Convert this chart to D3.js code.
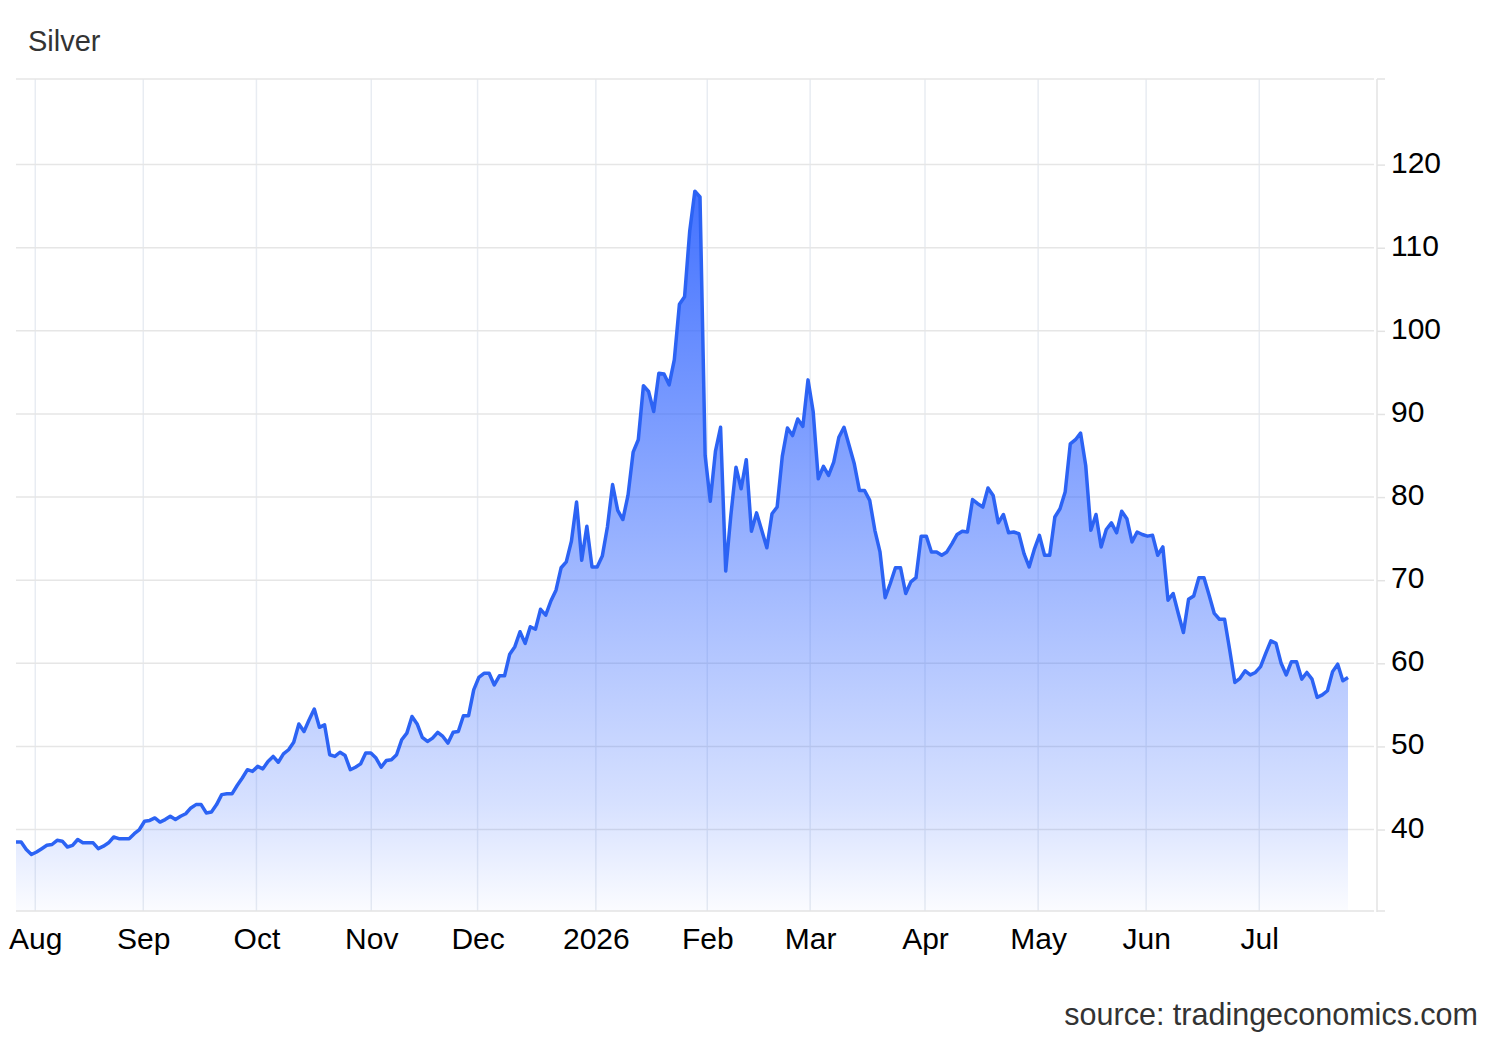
<!DOCTYPE html>
<html><head><meta charset="utf-8">
<script src="https://cdn.jsdelivr.net/npm/d3@7"></script>
<style>html,body{margin:0;padding:0;background:#fff;} svg{display:block;font-family:"Liberation Sans",Arial,Helvetica,sans-serif;}</style>
</head><body><svg id="chart" width="1500" height="1040"></svg>
<script>
const title = "Silver";
const sourceText = "source: tradingeconomics.com";
const startDate = "2025-07-28"; // first trading day shown (weekdays only)
const prices = [
38.5,38.5,37.6,37.0,37.3,37.7,38.1,38.2,38.7,38.6,
37.9,38.1,38.8,38.4,38.4,38.4,37.7,38.0,38.4,39.1,
38.9,38.9,38.9,39.5,40.0,41.0,41.1,41.4,40.9,41.2,
41.6,41.2,41.6,41.9,42.6,43.0,43.0,42.0,42.1,43.0,
44.2,44.3,44.3,45.3,46.2,47.2,47.0,47.6,47.3,48.2,
48.8,48.1,49.1,49.6,50.5,52.7,51.8,53.2,54.5,52.3,
52.6,49.0,48.8,49.3,48.9,47.2,47.5,47.9,49.2,49.2,
48.6,47.5,48.3,48.4,49.0,50.8,51.6,53.6,52.7,51.1,
50.6,51.0,51.7,51.2,50.4,51.7,51.8,53.7,53.7,56.8,
58.3,58.8,58.8,57.4,58.5,58.5,61.1,62.0,63.8,62.4,
64.4,64.1,66.5,65.8,67.5,68.8,71.5,72.2,74.7,79.4,
72.4,76.5,71.6,71.6,72.9,76.4,81.5,78.4,77.3,80.2,
85.4,86.9,93.4,92.7,90.3,94.9,94.8,93.5,96.5,103.2,
104.1,112.0,116.8,116.1,85.0,79.5,85.5,88.4,71.1,77.8,
83.6,81.0,84.5,75.9,78.1,76.0,73.9,78.0,78.8,84.9,
88.3,87.4,89.4,88.5,94.1,90.3,82.2,83.7,82.6,84.2,
87.2,88.4,86.2,84.0,80.8,80.8,79.6,76.0,73.4,67.9,
69.6,71.5,71.5,68.4,69.8,70.3,75.3,75.3,73.4,73.4,
73.0,73.4,74.4,75.5,75.9,75.8,79.7,79.2,78.8,81.1,
80.2,76.9,77.9,75.7,75.8,75.6,73.2,71.6,73.7,75.4,
73.0,73.0,77.6,78.6,80.6,86.4,86.9,87.7,83.8,76.0,
77.9,74.0,76.1,76.9,75.7,78.3,77.4,74.6,75.8,75.5,
75.3,75.4,73.0,74.0,67.6,68.4,66.0,63.7,67.7,68.1,
70.3,70.3,68.2,66.0,65.3,65.3,61.6,57.7,58.2,59.1,
58.6,58.9,59.6,61.2,62.7,62.4,60.0,58.6,60.2,60.2,
58.1,58.9,58.1,55.9,56.2,56.7,59.0,59.9,57.9,58.3
];
const yTickValues = [40, 50, 60, 70, 80, 90, 100, 110, 120];
const monthTickDates = ["2025-08-01","2025-09-01","2025-10-01","2025-11-01","2025-12-01","2026-01-01","2026-02-01","2026-03-01","2026-04-01","2026-05-01","2026-06-01","2026-07-01"];
const monthTickLabels = ["Aug","Sep","Oct","Nov","Dec","2026","Feb","Mar","Apr","May","Jun","Jul"];

const svg = d3.select("#chart");
const L = 16, R = 1374, T = 79, B = 911, AX = 1377;
const FS = 30;

// trading-day dates
const parse = d3.utcParse("%Y-%m-%d");
const dates = [];
let cur = parse(startDate);
while (dates.length < prices.length) {
  const wd = cur.getUTCDay();
  if (wd !== 0 && wd !== 6) dates.push(cur);
  cur = d3.utcDay.offset(cur, 1);
}
const data = prices.map((v, i) => ({i, date: dates[i], v}));

const x = d3.scaleLinear().domain([0, prices.length - 1]).range([16, 1348]);
const y = d3.scaleLinear().domain([30.2, 130.3]).range([B, T]);

// month tick positions in trading-index units
const bis = d3.bisector(d => d).left;
const monthTicks = monthTickDates.map((s, k) => {
  const m = parse(s);
  const i = bis(dates, m);
  const gap = (dates[i] - m) / 864e5;
  return {pos: i - gap / 3 - 0.25, label: monthTickLabels[k]};
});

// gradient
const defs = svg.append("defs");
const grad = defs.append("linearGradient").attr("id", "fillGrad")
  .attr("gradientUnits", "userSpaceOnUse")
  .attr("x1", 0).attr("x2", 0).attr("y1", y(d3.max(prices))).attr("y2", B);
[[0, 0.92], [0.55, 0.45], [0.85, 0.2], [1, 0.02]].forEach(([o, a]) =>
  grad.append("stop").attr("offset", o).attr("stop-color", "#3366ff").attr("stop-opacity", a));
defs.append("clipPath").attr("id", "plotClip").append("rect")
  .attr("x", L).attr("y", T).attr("width", R - L).attr("height", B - T);

// vertical gridlines
svg.append("g").selectAll("line").data(monthTicks).join("line")
  .attr("x1", d => x(d.pos)).attr("x2", d => x(d.pos))
  .attr("y1", T).attr("y2", B)
  .attr("stroke", "#e8ecf2").attr("stroke-width", 1.5);

// horizontal gridlines
svg.append("g").selectAll("line").data(yTickValues).join("line")
  .attr("x1", L).attr("x2", R)
  .attr("y1", d => y(d)).attr("y2", d => y(d))
  .attr("stroke", "#e6e6e6").attr("stroke-width", 1.5);
svg.append("line").attr("x1", L).attr("x2", R).attr("y1", T).attr("y2", T)
  .attr("stroke", "#e6e6e6").attr("stroke-width", 1.5);

// area + line
const area = d3.area().x(d => x(d.i)).y0(B).y1(d => y(d.v));
const line = d3.line().x(d => x(d.i)).y(d => y(d.v));
const plot = svg.append("g").attr("clip-path", "url(#plotClip)");
plot.append("path").datum(data).attr("d", area).attr("fill", "url(#fillGrad)");
plot.append("path").datum(data).attr("d", line)
  .attr("fill", "none").attr("stroke", "#2c63f4").attr("stroke-width", 3.5)
  .attr("stroke-linejoin", "round");

// x axis baseline
svg.append("line").attr("x1", L).attr("x2", R).attr("y1", B).attr("y2", B)
  .attr("stroke", "#e3e3e3").attr("stroke-width", 1.5);

// x axis labels
const xAxis = d3.axisBottom(x)
  .tickValues(monthTicks.map(d => d.pos))
  .tickFormat((d, k) => monthTicks[k].label)
  .tickSize(0).tickPadding(17);
const gx = svg.append("g").attr("transform", `translate(0,${B})`).call(xAxis);
gx.select(".domain").remove();
gx.selectAll("text").attr("font-size", FS).attr("fill", "#000")
  .attr("font-family", '"Liberation Sans",Arial,Helvetica,sans-serif');

// right y axis
const yAxis = d3.axisRight(y).tickValues(yTickValues).tickSize(8).tickPadding(6);
const gy = svg.append("g").attr("transform", `translate(${AX},0)`).call(yAxis);
gy.select(".domain").remove();
gy.selectAll(".tick line").attr("stroke", "#e3e3e3").attr("stroke-width", 1.5);
gy.selectAll("text").attr("font-size", FS).attr("fill", "#000").attr("dy", "0.25em")
  .attr("font-family", '"Liberation Sans",Arial,Helvetica,sans-serif');
svg.append("line").attr("x1", AX).attr("x2", AX).attr("y1", T).attr("y2", B + 1)
  .attr("stroke", "#e3e3e3").attr("stroke-width", 1.5);
[T, B].forEach(yy => svg.append("line").attr("x1", AX).attr("x2", AX + 8)
  .attr("y1", yy).attr("y2", yy).attr("stroke", "#e3e3e3").attr("stroke-width", 1.5));

// title & source
svg.append("text").attr("x", 28).attr("y", 51).attr("font-size", FS - 1)
  .attr("fill", "#333").text(title);
svg.append("text").attr("x", 1478).attr("y", 1025).attr("text-anchor", "end")
  .attr("font-size", FS + 0.5).attr("fill", "#333").text(sourceText);
</script></body></html>
